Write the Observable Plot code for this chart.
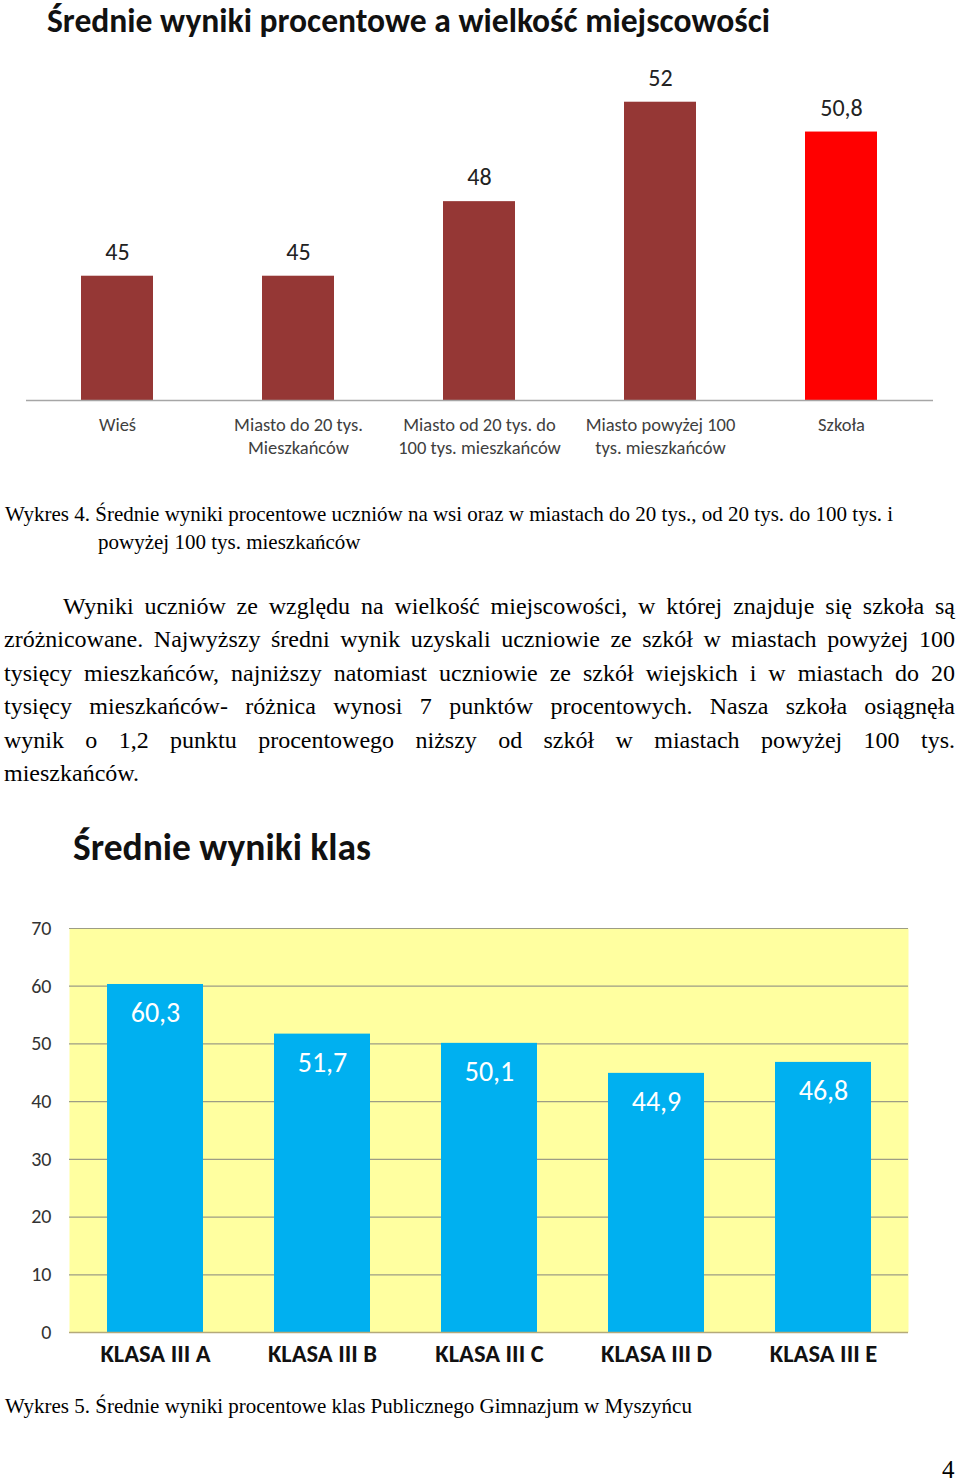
<!DOCTYPE html>
<html>
<head>
<meta charset="utf-8">
<script src="https://cdn.jsdelivr.net/npm/d3@7"></script>
<script src="https://cdn.jsdelivr.net/npm/@observablehq/plot@0.6"></script>
<style>
  html, body { margin: 0; padding: 0; background: #fff; }
  #page { position: relative; width: 960px; height: 1484px; overflow: hidden; background: #fff; }
  .abs { position: absolute; white-space: nowrap; }
  .sans { font-family: Carlito, "Liberation Sans Narrow", "Open Sans", sans-serif; }
  .serif { font-family: "Liberation Serif", "DejaVu Serif", serif; color: #000; }
  .jl { position: absolute; text-align: justify; text-align-last: justify; font-family: "Liberation Serif", serif; font-size: 24px; line-height: 30px; height: 30px; color: #000; }
  .chart { position: absolute; left: 0; }
</style>
</head>
<body>
<div id="page">
  <div class="abs sans" id="t1" style="left:47px; top:3px; font-size:33.6px; font-weight:bold; color:#111; line-height:36px;">Średnie wyniki procentowe a wielkość miejscowości</div>
  <div class="chart" id="c1" style="top:0px;"></div>
  <div class="abs serif" style="left:5px; top:502px; font-size:21px; line-height:24px;">Wykres 4. Średnie wyniki procentowe uczniów na wsi oraz w miastach do 20 tys., od 20 tys. do 100 tys. i</div>
  <div class="abs serif" style="left:98px; top:530px; font-size:21px; line-height:24px;">powyżej 100 tys. mieszkańców</div>
  <div id="para"></div>
  <div class="abs sans" id="t2" style="left:73px; top:826px; font-size:37.5px; font-weight:bold; color:#111; line-height:42px;">Średnie wyniki klas</div>
  <div class="chart" id="c2" style="top:880px;"></div>
  <div class="abs serif" style="left:5px; top:1394px; font-size:21px; line-height:24px;">Wykres 5. Średnie wyniki procentowe klas Publicznego Gimnazjum w Myszyńcu</div>
  <div class="abs serif" style="left:942px; top:1456px; font-size:25px; line-height:28px;">4</div>
</div>
<script>
// ---- Data: chart 1 ----
const places = ["Wieś", "Miasto do 20 tys.", "Miasto od 20 do 100 tys.", "Miasto powyżej 100 tys.", "Szkoła"];
const placeLabels = ["Wieś", "Miasto do 20 tys.\nMieszkańców", "Miasto od 20 tys. do\n100 tys. mieszkańców", "Miasto powyżej 100\ntys. mieszkańców", "Szkoła"];
const placeScores = [45, 45, 48, 52, 50.8];
const placeColors = ["#953735", "#953735", "#953735", "#953735", "#FF0000"];

// ---- Data: chart 2 ----
const classes = ["KLASA III A", "KLASA III B", "KLASA III C", "KLASA III D", "KLASA III E"];
const classScores = [60.3, 51.7, 50.1, 44.9, 46.8];
const classTicks = [0, 10, 20, 30, 40, 50, 60, 70];

// ---- Paragraph lines ----
const paraLines = [
  "Wyniki uczniów ze względu na wielkość miejscowości, w której znajduje się szkoła są",
  "zróżnicowane. Najwyższy średni wynik uzyskali uczniowie ze szkół w miastach powyżej 100",
  "tysięcy mieszkańców, najniższy natomiast uczniowie ze szkół wiejskich i w  miastach do 20",
  "tysięcy mieszkańców- różnica wynosi 7 punktów procentowych. Nasza szkoła osiągnęła",
  "wynik o 1,2 punktu procentowego niższy od szkół w miastach powyżej 100 tys.",
  "mieszkańców."
];

const fmt = v => String(v).replace(".", ",");
const sansFont = 'Carlito, "Liberation Sans Narrow", "Open Sans", sans-serif';

const d1 = places.map((p, i) => ({place: p, score: placeScores[i], color: placeColors[i]}));
const labelOf = new Map(places.map((p, i) => [p, placeLabels[i]]));

const chart1 = Plot.plot({
  width: 960,
  height: 470,
  marginLeft: 26,
  marginRight: 27,
  marginTop: 52,
  marginBottom: 70,
  style: {fontFamily: sansFont, background: "transparent", overflow: "visible"},
  x: {domain: places, paddingInner: 0.6, paddingOuter: 0.3, label: null},
  y: {domain: [40, 54], axis: null},
  marks: [
    Plot.barY(d1, {x: "place", y1: 40, y2: "score", fill: "color"}),
    Plot.ruleY([40], {stroke: "#a6a6a6", strokeWidth: 1.3}),
    Plot.text(d1, {x: "place", y: "score", text: d => fmt(d.score), dy: -24, fontSize: 24, fill: "#222"}),
    Plot.axisX({tickSize: 0, tickPadding: 14, fontSize: 18.5, lineHeight: 1.25, fill: "#404040", tickFormat: p => labelOf.get(p), label: null})
  ]
});
document.getElementById("c1").appendChild(chart1);

const d2 = classes.map((c, i) => ({cls: c, score: classScores[i]}));

const chart2 = Plot.plot({
  width: 960,
  height: 500,
  marginLeft: 69,
  marginRight: 52,
  marginTop: 48,
  marginBottom: 48,
  style: {fontFamily: sansFont, background: "transparent", overflow: "visible"},
  x: {domain: classes, paddingInner: 0.428, paddingOuter: 0.214, label: null},
  y: {domain: [0, 70], label: null},
  marks: [
    Plot.frame({fill: "#FFFFA0", stroke: null}),
    Plot.ruleY(classTicks, {stroke: "#9d9d85", strokeWidth: 1.2}),
    Plot.barY(d2, {x: "cls", y: "score", fill: "#00B0F0"}),
    Plot.ruleY([0], {stroke: "#b5a97a", strokeWidth: 1.5}),
    Plot.text(d2, {x: "cls", y: "score", text: d => fmt(d.score), dy: 29, fontSize: 28, fill: "#fff"}),
    Plot.axisY({ticks: classTicks, tickSize: 0, tickPadding: 18, fontSize: 20, fill: "#333", label: null}),
    Plot.axisX({tickSize: 0, tickPadding: 12, fontSize: 24.5, fontWeight: "bold", fill: "#111", label: null})
  ]
});
document.getElementById("c2").appendChild(chart2);

// paragraph
const para = document.getElementById("para");
const tops = [591, 624, 658, 691, 725, 758];
paraLines.forEach((t, i) => {
  const d = document.createElement("div");
  if (i === paraLines.length - 1) {
    d.className = "abs serif";
    d.style.fontSize = "24px";
    d.style.lineHeight = "30px";
    d.style.left = "4px";
  } else {
    d.className = "jl";
    d.style.left = (i === 0 ? 63 : 4) + "px";
    d.style.width = (i === 0 ? 892 : 951) + "px";
  }
  d.style.top = tops[i] + "px";
  d.textContent = t;
  para.appendChild(d);
});
</script>
</body>
</html>
